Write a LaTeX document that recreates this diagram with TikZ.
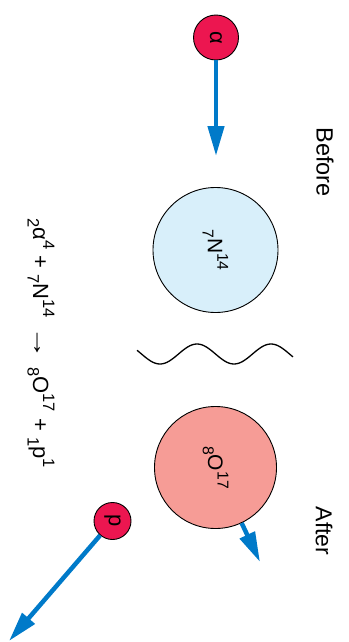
\documentclass[tikz,border=0pt]{standalone}
\usepackage{fontspec}
\usepackage{graphicx}
\setmainfont{Liberation Sans}
\usetikzlibrary{arrows.meta}

\definecolor{particlered}{RGB}{236,22,80}
\definecolor{trackblue}{RGB}{0,122,201}
\definecolor{nitrofill}{RGB}{216,239,250}
\definecolor{oxyfill}{RGB}{246,156,150}

\newcommand{\lowidx}[1]{\raisebox{-0.25em}{\scalebox{0.75}{#1}}}
\newcommand{\highidx}[1]{\raisebox{0.45em}{\scalebox{0.75}{#1}}}

\begin{document}
\begin{tikzpicture}[x=1pt, y=-1pt,
    nucleus/.style={circle, draw, line width=0.9pt, inner sep=0pt, rotate=-90},
    particle/.style={nucleus, fill=particlered, font=\fontsize{22}{24}\selectfont},
    track/.style={trackblue, line width=4.5pt, -{Triangle[length=30pt, width=16pt]}},
    label/.style={rotate=-90, inner sep=0pt}
]
    \useasboundingbox (0,0) rectangle (348,642);

    % Nuclei
    \node[nucleus, fill=nitrofill, minimum size=125pt, font=\fontsize{21}{24}\selectfont] (nitrogen) at (215.5,250)
        {\lowidx{7}N\highidx{14}};
    \node[nucleus, fill=oxyfill, minimum size=122pt, font=\fontsize{21}{24}\selectfont] (oxygen) at (215.5,467.5)
        {\lowidx{8}O\highidx{17}};

    % Particles
    \node[particle, minimum size=45pt] (alpha) at (216,37.5) {α};
    \node[particle, minimum size=37pt] (proton) at (112.5,521) {p};

    % Track ends
    \coordinate (alphaend) at (216,156);
    \coordinate (protonend) at (9,641);
    \coordinate (oxygenend) at (260,562);

    % Tracks
    \draw[track] (alpha) -- (alphaend);
    \draw[track] (proton) -- (protonend);
    \draw[track] (oxygen) -- (oxygenend);

    % Wave between before and after
    \draw[line width=1.3pt] plot[domain=137:293, samples=90, smooth] (\x, {354+10*cos(4.865*(\x-160))});

    % Labels
    \node[label, font=\fontsize{23.5}{26}\selectfont] (before) at (325,162) {Before};
    \node[label, font=\fontsize{23}{26}\selectfont] (after) at (324,531) {After};
    \node[label, font=\fontsize{22}{24}\selectfont] (reaction) at (41,343)
        {\lowidx{2}α\highidx{4} + \lowidx{7}N\highidx{14}\hspace{0.4em}\scalebox{1.5}[1.1]{→}\hspace{0.35em}\lowidx{8}O\highidx{17} + \lowidx{1}p\highidx{1}};
\end{tikzpicture}
\end{document}
